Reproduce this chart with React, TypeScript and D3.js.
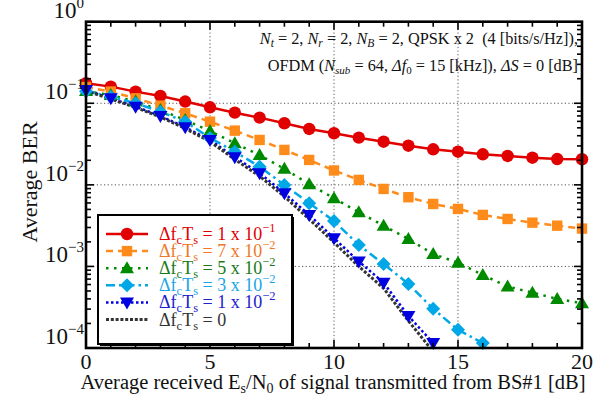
import React from "react";
import * as d3 from "d3";

const snr = [0, 1, 2, 3, 4, 5, 6, 7, 8, 9, 10, 11, 12, 13, 14, 15, 16, 17, 18, 19, 20];
const ber1e1 = [0.176, 0.16, 0.139, 0.123, 0.105, 0.0893, 0.0767, 0.0667, 0.0569, 0.0484, 0.0429, 0.0379, 0.0338, 0.0302, 0.0273, 0.0255, 0.0237, 0.0226, 0.0215, 0.0207, 0.0206];
const ber7e2 = [0.158, 0.139, 0.115, 0.0935, 0.0754, 0.0595, 0.0462, 0.0355, 0.0268, 0.0202, 0.015, 0.0115, 0.00891, 0.00705, 0.00583, 0.00507, 0.00428, 0.00382, 0.00344, 0.00316, 0.00291];
const ber5e2 = [0.141, 0.126, 0.105, 0.0828, 0.0624, 0.0458, 0.0324, 0.0232, 0.0157, 0.0102, 0.00685, 0.00462, 0.00316, 0.00217, 0.00142, 0.00111, 0.000787, 0.000566, 0.000477, 0.0004, 0.000354];
const ber3e2 = [0.14, 0.1205, 0.1, 0.0789, 0.0595, 0.0376, 0.0255, 0.0167, 0.00997, 0.00595, 0.00361, 0.00183, 0.00107, 0.000611, 0.000302, 0.000167, 0.000115];
const ber1e2 = [0.145, 0.115, 0.0908, 0.0699, 0.0508, 0.0355, 0.0218, 0.0139, 0.00789, 0.00428, 0.00222, 0.00115, 0.000633, 0.000247, 0.000115];
const ber0 = [0.142, 0.113, 0.089, 0.068, 0.049, 0.034, 0.0205, 0.0128, 0.0072, 0.0038, 0.00197, 0.001, 0.00054, 0.000215, 0.00009];

const xTicks = [0, 5, 10, 15, 20];
const yTickExps = [0, -1, -2, -3, -4];

const legendMantissa = ["1", "7", "5", "3", "1", ""];
const legendExp = ["−1", "−2", "−2", "−2", "−2", ""];

const FONT = "Liberation Serif, Tinos, Times New Roman, DejaVu Serif, serif";

type Series = {
  values: number[];
  color: string;
  textColor: string;
  dash: string;
  width: number;
  marker: string;
};

const series: Series[] = [
  { values: ber1e1, color: "#e00000", textColor: "#e00000", dash: "", width: 2.5, marker: "circle" },
  { values: ber7e2, color: "#ff8c1a", textColor: "#f07828", dash: "7,5", width: 2.5, marker: "square" },
  { values: ber5e2, color: "#008a00", textColor: "#1a7a1a", dash: "2.5,5.5", width: 2.5, marker: "triUp" },
  { values: ber3e2, color: "#00a8e8", textColor: "#1aa6e6", dash: "9,4,2.5,4", width: 2.5, marker: "diamond" },
  { values: ber1e2, color: "#0000e0", textColor: "#2020d0", dash: "2.5,2.5", width: 2.5, marker: "triDown" },
  { values: ber0, color: "#333333", textColor: "#333333", dash: "3,1.8", width: 3, marker: "none" },
];

function Marker({ kind, cx, cy, color }: { kind: string; cx: number; cy: number; color: string }) {
  if (kind === "circle") return <circle cx={cx} cy={cy} r={6.2} fill={color} />;
  if (kind === "square") return <rect x={cx - 5.2} y={cy - 5.2} width={10.4} height={10.4} fill={color} />;
  if (kind === "triUp")
    return <path d={`M${cx},${cy - 7}L${cx + 7},${cy + 5}L${cx - 7},${cy + 5}Z`} fill={color} />;
  if (kind === "triDown")
    return <path d={`M${cx},${cy + 7}L${cx + 7},${cy - 5}L${cx - 7},${cy - 5}Z`} fill={color} />;
  if (kind === "diamond")
    return <path d={`M${cx},${cy - 7}L${cx + 7},${cy}L${cx},${cy + 7}L${cx - 7},${cy}Z`} fill={color} />;
  return null;
}

export default function App() {
  const W = 602;
  const H = 399;
  const L = 86, R = 582, T = 21.7, B = 348;
  const x = d3.scaleLinear().domain([0, 20]).range([L, R]);
  const y = d3.scaleLog().domain([1e-4, 1]).range([B, T]);

  const line = d3
    .line<number>()
    .x((_, i) => x(snr[i]))
    .y((d) => y(d));

  const minorX = d3.range(0, 21);
  const minorY: number[] = [];
  for (let e = -4; e < 0; e++) for (let m = 2; m <= 9; m++) minorY.push(m * Math.pow(10, e));

  const legX = 98, legY = 215, legW = 194, legH = 129;

  return (
    <svg width={W} height={H} style={{ position: "absolute", left: 0, top: 0, background: "#fff", fontFamily: FONT }}>
      <defs>
        <clipPath id="plotClip">
          <rect x={L} y={T} width={R - L} height={B - T} />
        </clipPath>
      </defs>
      <rect width={W} height={H} fill="#fff" />
      {/* grid */}
      {[5, 10, 15].map((v) => (
        <line key={"gx" + v} x1={x(v)} x2={x(v)} y1={T} y2={B} stroke="#555" strokeWidth={1} strokeDasharray="1.2,2.4" />
      ))}
      {[1e-1, 1e-2, 1e-3].map((v) => (
        <line key={"gy" + v} x1={L} x2={R} y1={y(v)} y2={y(v)} stroke="#555" strokeWidth={1} strokeDasharray="1.2,2.4" />
      ))}
      {/* annotation */}
      <text x={578} y={44} textAnchor="end" fontSize={16.3} fill="#111" style={{ fontFamily: FONT, whiteSpace: "pre" }}>
        <tspan fontStyle="italic">N</tspan>
        <tspan fontSize={11.5} dy={3} fontStyle="italic">t</tspan>
        <tspan dy={-3}>{" = 2, "}</tspan>
        <tspan fontStyle="italic">N</tspan>
        <tspan fontSize={11.5} dy={3} fontStyle="italic">r</tspan>
        <tspan dy={-3}>{" = 2, "}</tspan>
        <tspan fontStyle="italic">N</tspan>
        <tspan fontSize={11.5} dy={3} fontStyle="italic">B</tspan>
        <tspan dy={-3}>{" = 2, QPSK x 2\u00a0 (4 [bits/s/Hz]),"}</tspan>
      </text>
      <text x={578} y={71} textAnchor="end" fontSize={16.3} fill="#111" style={{ fontFamily: FONT }}>
        <tspan>OFDM (</tspan>
        <tspan fontStyle="italic">N</tspan>
        <tspan fontSize={11} dy={3} fontStyle="italic">sub</tspan>
        <tspan dy={-3}> = 64, </tspan>
        <tspan fontStyle="italic">Δf</tspan>
        <tspan fontSize={11} dy={3}>0</tspan>
        <tspan dy={-3}> = 15 [kHz]), </tspan>
        <tspan fontStyle="italic">ΔS</tspan>
        <tspan> = 0 [dB]</tspan>
      </text>
      {/* series lines */}
      <g clipPath="url(#plotClip)">
        {series.map((s, i) => (
          <path
            key={"l" + i}
            d={line(s.values) || ""}
            fill="none"
            stroke={s.color}
            strokeWidth={s.width}
            strokeDasharray={s.dash || undefined}
          />
        ))}
      </g>
      {series.map((s, i) => (
        <g key={"m" + i}>
          {s.values.map((v, j) =>
            v >= 1e-4 ? <Marker key={j} kind={s.marker} cx={x(snr[j])} cy={y(v)} color={s.color} /> : null
          )}
        </g>
      ))}
      {/* ticks */}
      {minorX.map((v) => {
        const len = v % 5 === 0 ? 8 : 5;
        return (
          <g key={"tx" + v}>
            <line x1={x(v)} x2={x(v)} y1={B} y2={B - len} stroke="#000" strokeWidth={1.6} />
            <line x1={x(v)} x2={x(v)} y1={T} y2={T + len} stroke="#000" strokeWidth={1.6} />
          </g>
        );
      })}
      {minorY.map((v, i) => (
        <g key={"ty" + i}>
          <line x1={L} x2={L + 5} y1={y(v)} y2={y(v)} stroke="#000" strokeWidth={1.6} />
          <line x1={R} x2={R - 5} y1={y(v)} y2={y(v)} stroke="#000" strokeWidth={1.6} />
        </g>
      ))}
      {yTickExps.map((e) => (
        <g key={"tye" + e}>
          <line x1={L} x2={L + 8} y1={y(Math.pow(10, e))} y2={y(Math.pow(10, e))} stroke="#000" strokeWidth={1.6} />
          <line x1={R} x2={R - 8} y1={y(Math.pow(10, e))} y2={y(Math.pow(10, e))} stroke="#000" strokeWidth={1.6} />
        </g>
      ))}
      {/* frame */}
      <rect x={L} y={T} width={R - L} height={B - T} fill="none" stroke="#000" strokeWidth={2.6} />
      {/* tick labels */}
      {xTicks.map((v) => (
        <text key={"xl" + v} x={x(v)} y={369} textAnchor="middle" fontSize={22} fill="#111" style={{ fontFamily: FONT }}>
          {v}
        </text>
      ))}
      {yTickExps.map((e) => (
        <text key={"yl" + e} x={84} y={y(Math.pow(10, e)) - 4} textAnchor="end" fontSize={23} fill="#111" style={{ fontFamily: FONT }}>
          <tspan>10</tspan>
          <tspan fontSize={15} dy={-10}>{e === 0 ? "0" : "−" + Math.abs(e)}</tspan>
        </text>
      ))}
      {/* axis titles */}
      <text x={333} y={389} textAnchor="middle" fontSize={20.5} fill="#111" style={{ fontFamily: FONT }}>
        <tspan>Average received E</tspan>
        <tspan fontSize={14} dy={4}>s</tspan>
        <tspan dy={-4}>/N</tspan>
        <tspan fontSize={14} dy={4}>0</tspan>
        <tspan dy={-4}> of signal transmitted from BS#1 [dB]</tspan>
      </text>
      <text transform={`translate(37,182) rotate(-90)`} textAnchor="middle" fontSize={22} fill="#111" style={{ fontFamily: FONT }}>
        Average BER
      </text>
      {/* legend */}
      <rect x={legX + 2} y={legY + 2} width={legW} height={legH} fill="#000" />
      <rect x={legX} y={legY} width={legW} height={legH} fill="#fff" stroke="#000" strokeWidth={2} />
      {series.map((s, i) => {
        const cy = legY + 19 + i * 17.1;
        return (
          <g key={"lg" + i}>
            <line x1={legX + 8} x2={legX + 50} y1={cy} y2={cy} stroke={s.color} strokeWidth={s.width} strokeDasharray={s.dash || undefined} />
            <Marker kind={s.marker} cx={legX + 29} cy={cy} color={s.color} />
            <text x={legX + 61} y={cy + 6} fontSize={18} fill={s.textColor} style={{ fontFamily: FONT }}>
              <tspan>Δf</tspan>
              <tspan fontSize={12.5} dy={4}>c</tspan>
              <tspan dy={-4}>T</tspan>
              <tspan fontSize={12.5} dy={4}>s</tspan>
              {legendMantissa[i] ? (
                <>
                  <tspan dy={-4}>{` = ${legendMantissa[i]} x 10`}</tspan>
                  <tspan fontSize={12.5} dy={-8}>{legendExp[i]}</tspan>
                </>
              ) : (
                <tspan dy={-4}> = 0</tspan>
              )}
            </text>
          </g>
        );
      })}
    </svg>
  );
}
